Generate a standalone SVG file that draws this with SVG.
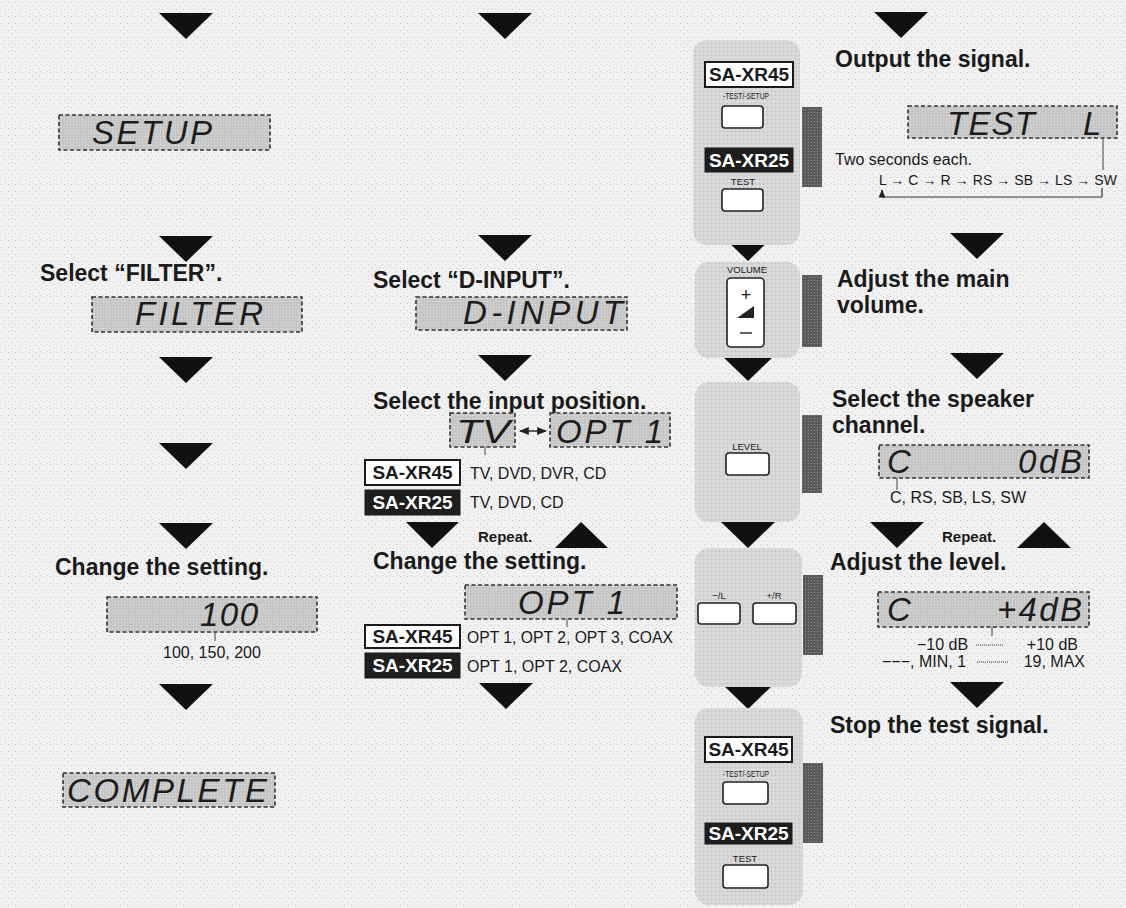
<svg xmlns="http://www.w3.org/2000/svg" width="1126" height="908" viewBox="0 0 1126 908">
<defs>
<pattern id="bgNoise" width="7" height="7" patternUnits="userSpaceOnUse">
<rect width="7" height="7" fill="#f1f1f1"/>
<rect x="1" y="2" width="1" height="1" fill="#c4c4c4"/>
<rect x="4" y="5" width="1" height="1" fill="#d0d0d0"/>
<rect x="5" y="1" width="1" height="1" fill="#dadada"/>
</pattern>
<pattern id="lcd" width="3" height="3" patternUnits="userSpaceOnUse">
<rect width="3" height="3" fill="#c6c6c6"/>
<rect x="1" y="1" width="1" height="1" fill="#e2e2e2"/>
</pattern>
<pattern id="panelTex" width="4" height="4" patternUnits="userSpaceOnUse">
<rect width="4" height="4" fill="#d6d6d6"/>
<rect x="1" y="1" width="1" height="1" fill="#ececec"/>
<rect x="3" y="3" width="1" height="1" fill="#bdbdbd"/>
</pattern>
<pattern id="stripTex" width="3" height="3" patternUnits="userSpaceOnUse">
<rect width="3" height="3" fill="#5a5a5a"/>
<rect x="1" y="1" width="1" height="1" fill="#8a8a8a"/>
</pattern>
<marker id="ah" viewBox="0 0 10 10" refX="9" refY="5" markerWidth="7" markerHeight="7" orient="auto-start-reverse">
<path d="M0,1 L10,5 L0,9 z" fill="#222"/>
</marker>
</defs>
<style>
.head{font-family:"Liberation Sans",Arial,sans-serif;font-weight:bold;font-size:23px;fill:#1a1a1a}
.small{font-family:"Liberation Sans",Arial,sans-serif;font-size:16px;fill:#1a1a1a}
.tiny{font-family:"Liberation Sans",Arial,sans-serif;font-size:9.5px;fill:#1a1a1a;text-anchor:middle}
.rep{font-family:"Liberation Sans",Arial,sans-serif;font-weight:bold;font-size:15px;fill:#1a1a1a}
.disp{fill:url(#lcd);stroke:#333;stroke-width:1.6;stroke-dasharray:4 2.5}
.lcdt{font-family:"Liberation Sans",Arial,sans-serif;font-style:italic;font-size:33px;fill:#1c1c1c}
.panel{fill:url(#panelTex)}
.strip{fill:url(#stripTex)}
.m45{fill:#fff;stroke:#1a1a1a;stroke-width:2}
.m25{fill:#1e1e1e;stroke:#1a1a1a;stroke-width:1}
.m45t{font-family:"Liberation Sans",Arial,sans-serif;font-weight:bold;font-size:19px;fill:#1a1a1a;text-anchor:middle}
.m25t{font-family:"Liberation Sans",Arial,sans-serif;font-weight:bold;font-size:19px;fill:#fff;text-anchor:middle}
.btn{fill:#fff;stroke:#222;stroke-width:1.6}
.tri{fill:#111}
.tick{stroke:#444;stroke-width:1;fill:none}
.dots{stroke:#333;stroke-width:1.2;stroke-dasharray:1 1;fill:none}
</style>
<rect width="1126" height="908" fill="url(#bgNoise)"/>

<g id="connectors">
<path class="tri" d="M159,13 L213,13 L186,39 z"/>
<path class="tri" d="M159,236 L213,236 L186,262 z"/>
<path class="tri" d="M159,357 L213,357 L186,383 z"/>
<path class="tri" d="M159,443 L213,443 L186,469 z"/>
<path class="tri" d="M159,523 L213,523 L186,549 z"/>
<path class="tri" d="M159,684 L213,684 L186,710 z"/>
<path class="tri" d="M478,13 L532,13 L505,39 z"/>
<path class="tri" d="M478,235 L532,235 L505,261 z"/>
<path class="tri" d="M478,355 L532,355 L505,381 z"/>
<path class="tri" d="M406,522 L459,522 L432,548 z"/>
<path class="tri" d="M555,548 L608,548 L581,522 z"/>
<path class="tri" d="M479,683 L533,683 L506,709 z"/>
<path class="tri" d="M874,12 L928,12 L901,38 z"/>
<path class="tri" d="M721,235 L775,235 L748,261 z"/>
<path class="tri" d="M721,355 L775,355 L748,381 z"/>
<path class="tri" d="M721,522 L775,522 L748,548 z"/>
<path class="tri" d="M721,683 L775,683 L748,709 z"/>
<path class="tri" d="M950,233 L1004,233 L977,259 z"/>
<path class="tri" d="M950,353 L1004,353 L977,379 z"/>
<path class="tri" d="M870,522 L924,522 L897,548 z"/>
<path class="tri" d="M1017,548 L1071,548 L1044,522 z"/>
<path class="tri" d="M950,682 L1004,682 L977,708 z"/>
</g>

<g id="n-setup">
<rect class="disp" x="59" y="115" width="211" height="35"/>
<text class="lcdt" x="92" y="144" textLength="120" lengthAdjust="spacing">SETUP</text>
</g>

<g id="n-filter">
<text class="head" x="40" y="281">Select “FILTER”.</text>
<rect class="disp" x="92" y="297" width="210" height="35"/>
<text class="lcdt" x="135" y="325" textLength="128" lengthAdjust="spacing">FILTER</text>
</g>

<g id="n-change1">
<text class="head" x="55" y="575">Change the setting.</text>
<rect class="disp" x="107" y="597" width="210" height="35"/>
<text class="lcdt" x="200" y="626" textLength="58" lengthAdjust="spacing">100</text>
<line class="tick" x1="215" y1="632" x2="215" y2="641"/>
<text class="small" x="163" y="658">100, 150, 200</text>
</g>

<g id="n-complete">
<rect class="disp" x="63" y="773" width="212" height="34"/>
<text class="lcdt" x="67" y="802" textLength="200" lengthAdjust="spacing">COMPLETE</text>
</g>

<g id="n-dinput">
<text class="head" x="373" y="288">Select “D-INPUT”.</text>
<rect class="disp" x="416" y="297" width="211" height="33"/>
<text class="lcdt" x="463" y="324" textLength="160" lengthAdjust="spacing">D-INPUT</text>
</g>

<g id="n-inputpos">
<text class="head" x="373" y="409">Select the input position.</text>
<rect class="disp" x="450" y="413" width="65" height="34"/>
<text class="lcdt" x="456" y="443" textLength="54" lengthAdjust="spacingAndGlyphs">TV</text>
<line x1="520" y1="431" x2="546" y2="431" stroke="#222" stroke-width="1.4" marker-start="url(#ah)" marker-end="url(#ah)"/>
<rect class="disp" x="550" y="413" width="120" height="34"/>
<text class="lcdt" x="556" y="443" textLength="107" lengthAdjust="spacing">OPT 1</text>
<line class="tick" x1="485" y1="447" x2="485" y2="455"/>
<rect class="m45" x="365" y="460" width="95" height="25"/>
<text class="m45t" x="412.5" y="479">SA-XR45</text>
<text class="small" x="470" y="479">TV, DVD, DVR, CD</text>
<rect class="m25" x="365" y="490" width="95" height="25"/>
<text class="m25t" x="412.5" y="509">SA-XR25</text>
<text class="small" x="470" y="508">TV, DVD, CD</text>
<text class="rep" x="478" y="542">Repeat.</text>
</g>

<g id="n-change2">
<text class="head" x="373" y="569">Change the setting.</text>
<rect class="disp" x="465" y="585" width="212" height="34"/>
<text class="lcdt" x="518" y="614" textLength="107" lengthAdjust="spacing">OPT 1</text>
<line class="tick" x1="567" y1="619" x2="567" y2="627"/>
<rect class="m45" x="365" y="625" width="95" height="23"/>
<text class="m45t" x="412.5" y="643">SA-XR45</text>
<text class="small" x="467" y="643" textLength="206" lengthAdjust="spacingAndGlyphs">OPT 1, OPT 2, OPT 3, COAX</text>
<rect class="m25" x="365" y="653" width="95" height="25"/>
<text class="m25t" x="412.5" y="672">SA-XR25</text>
<text class="small" x="467" y="672">OPT 1, OPT 2, COAX</text>
</g>

<g id="n-remote-test">
<rect class="panel" x="693" y="40" width="107" height="205" rx="14"/>
<rect class="strip" x="802" y="107" width="20" height="80"/>
<rect class="m45" x="705" y="62" width="88" height="25"/>
<text class="m45t" x="749" y="81">SA-XR45</text>
<text class="tiny" x="746" y="99" textLength="46" lengthAdjust="spacingAndGlyphs">-TEST/-SETUP</text>
<rect class="btn" x="722" y="106" width="41" height="22" rx="3"/>
<rect class="m25" x="705" y="148" width="88" height="24"/>
<text class="m25t" x="749" y="167">SA-XR25</text>
<text class="tiny" x="743" y="185">TEST</text>
<rect class="btn" x="722" y="189" width="41" height="22" rx="3"/>
</g>

<g id="n-output">
<text class="head" x="835" y="67">Output the signal.</text>
<rect class="disp" x="908" y="106" width="209" height="32"/>
<text class="lcdt" x="947" y="135" textLength="88" lengthAdjust="spacing">TEST</text>
<text class="lcdt" x="1083" y="135">L</text>
<text class="small" x="835" y="165">Two seconds each.</text>
<text class="small" x="879" y="185" style="font-size:14px" textLength="238" lengthAdjust="spacing">L → C → R → RS → SB → LS → SW</text>
<line class="tick" x1="1103" y1="138" x2="1103" y2="170"/>
<polyline points="1102,188 1102,197 882,197 882,190" fill="none" stroke="#333" stroke-width="1.2" marker-end="url(#ah)"/>
</g>

<g id="n-remote-volume">
<rect class="panel" x="695" y="262" width="105" height="96" rx="14"/>
<rect class="strip" x="802" y="275" width="20" height="72"/>
<text class="tiny" x="747" y="273">VOLUME</text>
<rect class="btn" x="727" y="278" width="37" height="69" rx="4"/>
<text x="746" y="301" text-anchor="middle" style="font-family:'Liberation Sans',sans-serif;font-size:18px;fill:#222">+</text>
<path d="M737,318 L754,306 L754,318 z" fill="#222"/>
<line x1="740" y1="333" x2="752" y2="333" stroke="#222" stroke-width="1.4"/>
</g>

<g id="n-mainvol">
<text class="head" x="837" y="287">Adjust the main</text>
<text class="head" x="837" y="313">volume.</text>
</g>

<g id="n-remote-level">
<rect class="panel" x="695" y="382" width="105" height="140" rx="14"/>
<rect class="strip" x="802" y="415" width="20" height="78"/>
<text class="tiny" x="747" y="450">LEVEL</text>
<rect class="btn" x="726" y="453" width="43" height="22" rx="3"/>
</g>

<g id="n-speaker">
<text class="head" x="832" y="407">Select the speaker</text>
<text class="head" x="832" y="433">channel.</text>
<rect class="disp" x="879" y="445" width="210" height="33"/>
<text class="lcdt" x="887" y="473">C</text>
<text class="lcdt" x="1018" y="473" textLength="64" lengthAdjust="spacing">0dB</text>
<line class="tick" x1="897" y1="478" x2="897" y2="490"/>
<text class="small" x="890" y="503">C, RS, SB, LS, SW</text>
<text class="rep" x="942" y="542">Repeat.</text>
</g>

<g id="n-remote-lr">
<rect class="panel" x="695" y="548" width="107" height="139" rx="14"/>
<rect class="strip" x="803" y="575" width="20" height="80"/>
<text class="tiny" x="719" y="599">−/L</text>
<rect class="btn" x="698" y="603" width="42" height="21" rx="3"/>
<text class="tiny" x="774" y="599">+/R</text>
<rect class="btn" x="753" y="603" width="43" height="21" rx="3"/>
</g>

<g id="n-level">
<text class="head" x="830" y="570">Adjust the level.</text>
<rect class="disp" x="878" y="592" width="211" height="35"/>
<text class="lcdt" x="887" y="621">C</text>
<text class="lcdt" x="997" y="621" textLength="85" lengthAdjust="spacing">+4dB</text>
<line class="tick" x1="992" y1="627" x2="992" y2="636"/>
<text class="small" x="917" y="650">−10 dB</text>
<line class="dots" x1="976" y1="645" x2="1003" y2="645"/>
<text class="small" x="1078" y="650" text-anchor="end">+10 dB</text>
<text class="small" x="882" y="667">−−−, MIN, 1</text>
<line class="dots" x1="977" y1="662" x2="1008" y2="662"/>
<text class="small" x="1085" y="667" text-anchor="end">19, MAX</text>
</g>

<g id="n-remote-stop">
<rect class="panel" x="695" y="708" width="108" height="197" rx="14"/>
<rect class="strip" x="803" y="763" width="20" height="80"/>
<rect class="m45" x="705" y="737" width="87" height="25"/>
<text class="m45t" x="748.5" y="756">SA-XR45</text>
<text class="tiny" x="746" y="777" textLength="46" lengthAdjust="spacingAndGlyphs">-TEST/-SETUP</text>
<rect class="btn" x="723" y="782" width="45" height="22" rx="3"/>
<rect class="m25" x="705" y="823" width="87" height="21"/>
<text class="m25t" x="748.5" y="840">SA-XR25</text>
<text class="tiny" x="745" y="862">TEST</text>
<rect class="btn" x="723" y="865" width="45" height="23" rx="3"/>
</g>

<g id="n-stop">
<text class="head" x="830" y="733">Stop the test signal.</text>
</g>
</svg>
